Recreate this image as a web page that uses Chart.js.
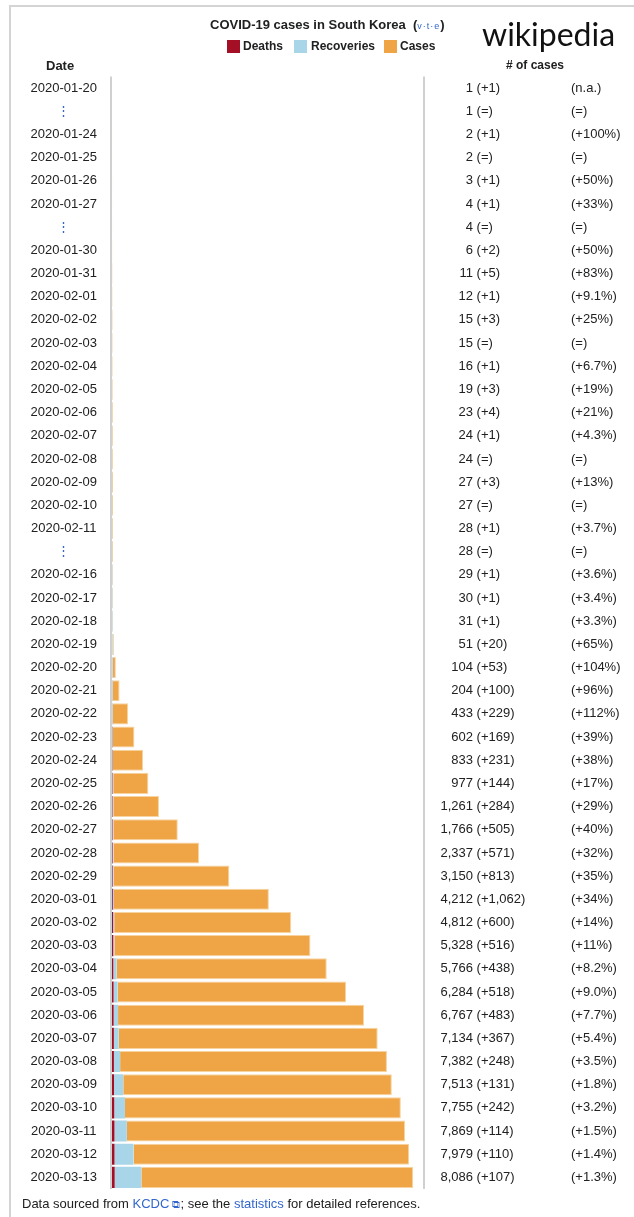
<!DOCTYPE html>
<html>
<head>
<meta charset="utf-8">
<script src="https://cdn.jsdelivr.net/npm/chart.js@4.4.0/dist/chart.umd.min.js"></script>
<style>
  body { margin: 0; background: #fff; width: 634px; height: 1217px; position: relative; overflow: hidden;
         font-family: "Liberation Sans", Arial, sans-serif; color: #202122; }
  #frame { position: absolute; left: 9px; top: 5px; width: 700px; height: 1300px;
           border-left: 2px solid #d4d4d4; border-top: 2px solid #d4d4d4; }
  #chart { position: absolute; left: 0; top: 0; }
  .t { position: absolute; white-space: nowrap; }
  .title { left: 210px; top: 17px; font-size: 13px; font-weight: bold; }
  .vte { font-size: 9px; font-weight: normal; color: #3366cc; letter-spacing: 1px; }
  .sq { position: absolute; width: 13px; height: 13px; top: 40px; }
  .lg { top: 39px; font-size: 12px; font-weight: bold; }
  .hd { top: 58px; font-size: 12px; font-weight: bold; }
  .wiki { left: 482px; top: 14px; font-family: Lato, "Open Sans", sans-serif; font-size: 32px; color: #111; }
  .foot { left: 22px; top: 1196px; font-size: 13px; }
  .foot a { color: #3366cc; text-decoration: none; }
</style>
</head>
<body>
<div id="frame"></div>
<canvas id="chart" width="634" height="1217"></canvas>

<div class="t title">COVID-19 cases in South Korea&nbsp; (<span class="vte">v·t·e</span>)</div>
<div class="sq" style="left:227px;background:#a50f26"></div>
<div class="t lg" style="left:243px">Deaths</div>
<div class="sq" style="left:294px;background:#a8d6e8"></div>
<div class="t lg" style="left:311px">Recoveries</div>
<div class="sq" style="left:384px;background:#efa546"></div>
<div class="t lg" style="left:400px">Cases</div>
<div class="t wiki">wikipedia</div>
<div class="t hd" style="left:46px;font-size:13px">Date</div>
<div class="t hd" style="left:506px"># of cases</div>
<div class="t foot">Data sourced from <a>KCDC</a><a style="font-size:11px"> ⧉</a>; see the <a>statistics</a> for detailed references.</div>

<script>
var dates = ['2020-01-20', '⋮', '2020-01-24', '2020-01-25', '2020-01-26', '2020-01-27', '⋮', '2020-01-30',
    '2020-01-31', '2020-02-01', '2020-02-02', '2020-02-03', '2020-02-04', '2020-02-05', '2020-02-06',
    '2020-02-07', '2020-02-08', '2020-02-09', '2020-02-10', '2020-02-11', '⋮', '2020-02-16', '2020-02-17',
    '2020-02-18', '2020-02-19', '2020-02-20', '2020-02-21', '2020-02-22', '2020-02-23', '2020-02-24',
    '2020-02-25', '2020-02-26', '2020-02-27', '2020-02-28', '2020-02-29', '2020-03-01', '2020-03-02',
    '2020-03-03', '2020-03-04', '2020-03-05', '2020-03-06', '2020-03-07', '2020-03-08', '2020-03-09',
    '2020-03-10', '2020-03-11', '2020-03-12', '2020-03-13'];

var cases = [1, 1, 2, 2, 3, 4, 4, 6, 11, 12, 15, 15, 16, 19, 23, 24, 24, 27, 27, 28, 28, 29, 30, 31,
    51, 104, 204, 433, 602, 833, 977, 1261, 1766, 2337, 3150, 4212, 4812, 5328, 5766, 6284, 6767,
    7134, 7382, 7513, 7755, 7869, 7979, 8086];

var deaths = [0, 0, 0, 0, 0, 0, 0, 0, 0, 0, 0, 0, 0, 0, 0, 0, 0, 0, 0, 0, 0, 0, 0, 0,
    0, 1, 2, 2, 6, 8, 11, 12, 13, 16, 17, 22, 28, 32, 35, 42, 44, 50, 51, 54, 60, 66, 67, 72];

var recoveries = [0, 0, 0, 0, 0, 0, 0, 0, 0, 0, 0, 0, 0, 1, 2, 2, 2, 3, 3, 4, 4, 9, 10, 12,
    16, 16, 16, 16, 18, 18, 22, 22, 22, 22, 27, 30, 30, 30, 88, 108, 118, 130, 166, 247, 288, 333, 510, 714];

var changes = ['+1', '=', '+1', '=', '+1', '+1', '=', '+2', '+5', '+1', '+3', '=', '+1', '+3', '+4', '+1',
    '=', '+3', '=', '+1', '=', '+1', '+1', '+1', '+20', '+53', '+100', '+229', '+169', '+231', '+144',
    '+284', '+505', '+571', '+813', '+1,062', '+600', '+516', '+438', '+518', '+483', '+367', '+248',
    '+131', '+242', '+114', '+110', '+107'];

var pctLabels = ['n.a.', '=', '+100%', '=', '+50%', '+33%', '=', '+50%', '+83%', '+9.1%', '+25%', '=',
    '+6.7%', '+19%', '+21%', '+4.3%', '=', '+13%', '=', '+3.7%', '=', '+3.6%', '+3.4%', '+3.3%', '+65%',
    '+104%', '+96%', '+112%', '+39%', '+38%', '+17%', '+29%', '+40%', '+32%', '+35%', '+34%', '+14%',
    '+11%', '+8.2%', '+9.0%', '+7.7%', '+5.4%', '+3.5%', '+1.8%', '+3.2%', '+1.5%', '+1.4%', '+1.3%'];

// active = total minus deaths and recoveries, so the stack adds up to the case count
var active = cases.map((c, i) => c - deaths[i] - recoveries[i]);

// right hand columns of the table + the two grey rules
var tableText = {
    id: 'tableText',
    afterDraw: function (chart) {
        var ctx = chart.ctx, area = chart.chartArea, y = chart.scales.y;
        ctx.save();
        ctx.fillStyle = '#d0d0d0';
        ctx.fillRect(area.left - 2, area.top, 2, area.bottom - area.top);
        ctx.fillRect(area.right, area.top, 2, area.bottom - area.top);

        ctx.font = '13px "Liberation Sans", Arial, sans-serif';
        ctx.fillStyle = '#202122';
        ctx.textBaseline = 'middle';
        var numX = area.right + 50, pctX = area.right + 148;
        dates.forEach(function (d, i) {
            var yy = y.getPixelForValue(i);
            ctx.textAlign = 'right';
            ctx.fillText(cases[i].toLocaleString('en-US'), numX, yy);
            ctx.textAlign = 'left';
            ctx.fillText(' (' + changes[i] + ')', numX, yy);
            ctx.fillText('(' + pctLabels[i] + ')', pctX, yy);
        });
        ctx.restore();
    }
};

var ctx = document.getElementById('chart').getContext('2d');
window.casesChart = new Chart(ctx, {
    type: 'bar',
    data: {
        labels: dates,
        datasets: [{
            label: 'Deaths',
            backgroundColor: '#a50f26',
            data: deaths
        },
        {
            label: 'Recoveries',
            backgroundColor: '#a8d6e8',
            data: recoveries
        },
        {
            label: 'Cases',
            backgroundColor: '#efa546',
            borderColor: '#f7d3a0',
            borderWidth: { top: 1, bottom: 1, right: 1 },
            data: active
        }]
    },
    options: {
        indexAxis: 'y',
        responsive: false,
        animation: false,
        layout: { padding: { top: 76.5, bottom: 28, left: 10, right: 211 } },
        datasets: { bar: { barPercentage: 0.91, categoryPercentage: 1 } },
        plugins: { legend: { display: false }, tooltip: { enabled: false } },
        scales: {
            x: { stacked: true, display: false, min: 0, max: 8350 },
            y: {
                stacked: true,
                grid: { display: false },
                border: { display: false },
                afterFit: function (scale) { scale.width = 102; },
                ticks: {
                    autoSkip: false,
                    padding: 7,
                    crossAlign: 'center',
                    font: { family: '"Liberation Sans", Arial, sans-serif', size: 13 },
                    color: function (c) { return dates[c.index] === '⋮' ? '#3366cc' : '#202122'; }
                }
            }
        }
    },
    plugins: [tableText]
});
</script>
</body>
</html>
